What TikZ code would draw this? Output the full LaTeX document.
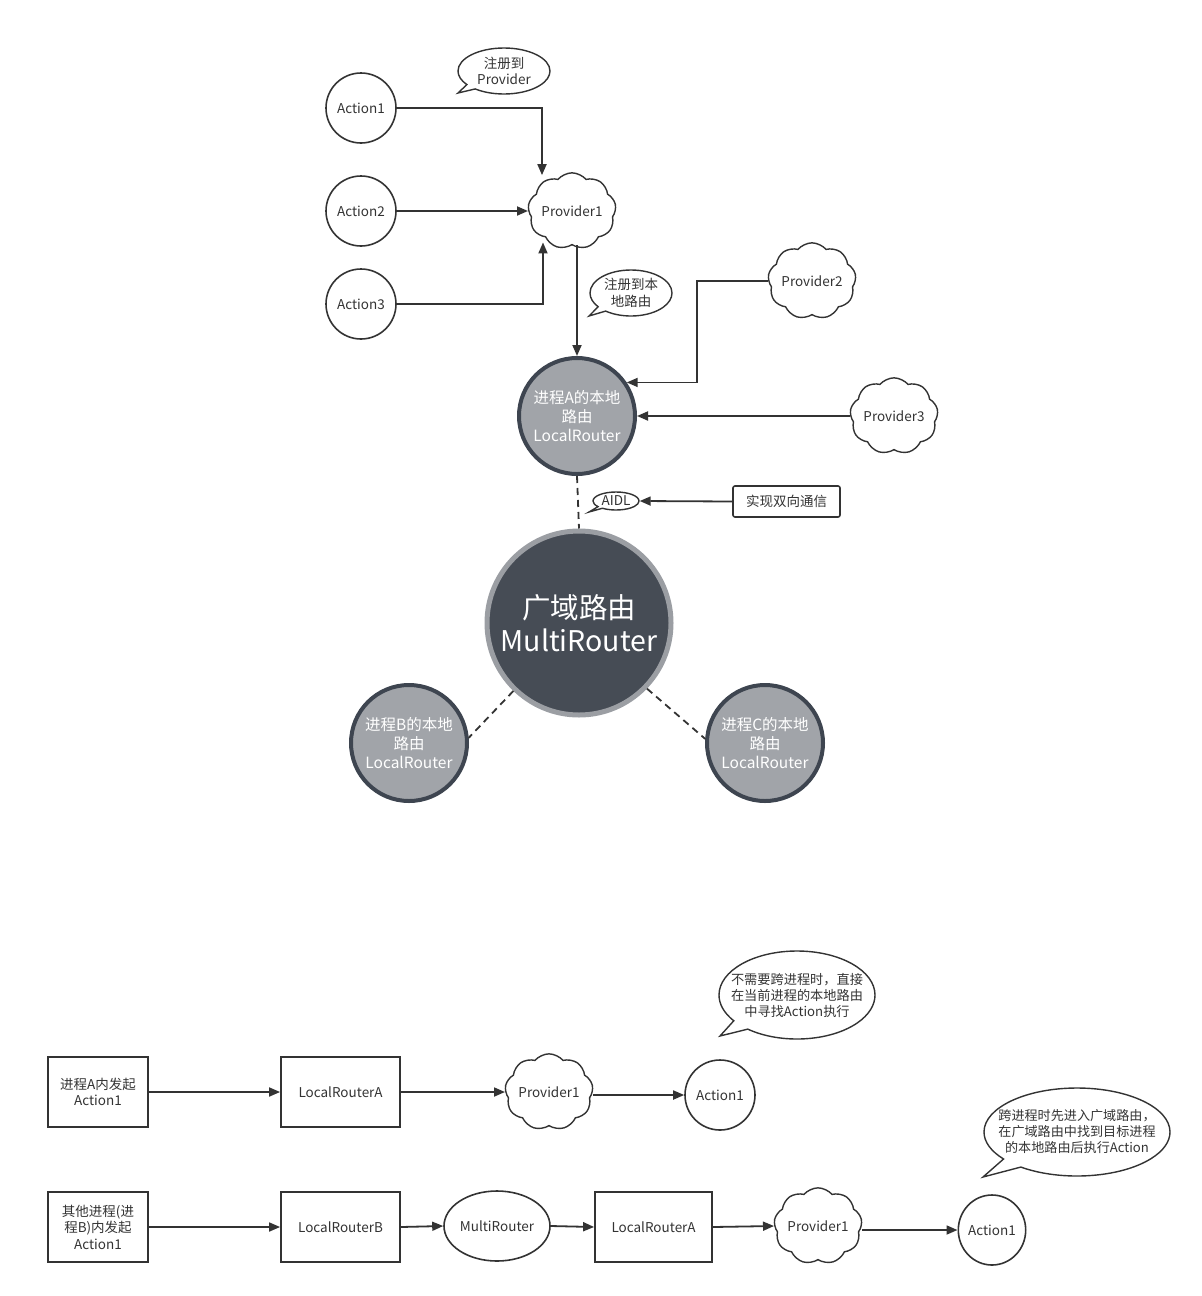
\documentclass[tikz,border=0pt]{standalone}
\usepackage{fontspec}
\setmainfont{Noto Sans CJK SC}
\usetikzlibrary{shapes.symbols,shapes.callouts,shapes.geometric,arrows.meta,calc}
\definecolor{lc}{HTML}{333333}
\definecolor{lrfill}{HTML}{A1A4A9}
\definecolor{lrline}{HTML}{3E4550}
\definecolor{mrfill}{HTML}{464C55}
\definecolor{mrline}{HTML}{9B9EA3}
\begin{document}
\begin{tikzpicture}[x=1pt,y=-1pt,
  every node/.style={text=lc, font=\fontsize{13.5}{16.5}\selectfont},
  ln/.style={draw=lc, line width=1.8pt},
  arr/.style={ln, -{Triangle[length=11pt,width=9pt]}},
  act/.style={circle, draw=lc, line width=1.6pt, minimum size=70pt, inner sep=0pt},
  actel/.style={ellipse, draw=lc, line width=1.6pt, inner sep=0pt},
  cl/.style={cloud, cloud puffs=9, cloud puff arc=100, draw=lc, line width=1.4pt, minimum width=88pt, minimum height=66pt, inner sep=-6pt},
  box/.style={rectangle, draw=lc, line width=1.8pt, align=center, inner sep=0pt},
  co/.style={ellipse callout, draw=lc, line width=1.4pt, align=center, inner sep=-30pt},
  lr/.style={circle, fill=lrfill, draw=lrline, line width=4pt, minimum size=116pt, inner sep=-10pt, align=center, text=white, font=\fontsize{15.5}{19}\selectfont},
  mr/.style={circle, fill=mrfill, draw=mrline, line width=5pt, minimum size=184pt, inner sep=-20pt, align=center, text=white, font=\fontsize{28.5}{33}\selectfont},
  dsh/.style={draw=lc, line width=1.8pt, dash pattern=on 7pt off 5pt}
]
\useasboundingbox (0,0) rectangle (1202,1296);

% ---------- top part ----------
\node[act] (a1) at (361,108) {Action1};
\node[act] (a2) at (361,211) {Action2};
\node[act] (a3) at (361,304) {Action3};
\node[cl] (p1) at (572,211) {Provider1};
\node[co, minimum width=92pt, minimum height=46pt, callout absolute pointer={(458,93)}] (c1) at (504,71) {注册到\\Provider};
\node[co, minimum width=82pt, minimum height=46pt, callout absolute pointer={(589,316)}] (c2) at (631,293) {注册到本\\地路由};
\node[cl] (p2) at (812,281) {Provider2};
\node[cl] (p3) at (894,416) {Provider3};
\node[lr] (lra) at (577,416) {进程A的本地\\路由\\LocalRouter};
\node[mr] (mr) at (579,623) {广域路由\\MultiRouter};
\node[lr] (lrb) at (409,743) {进程B的本地\\路由\\LocalRouter};
\node[lr] (lrc) at (765,743) {进程C的本地\\路由\\LocalRouter};
\node[co, minimum width=46pt, minimum height=18pt, callout absolute pointer={(589,512)}] (aidl) at (616,501) {AIDL};
\node[box, rounded corners=2pt, minimum width=107pt, minimum height=31pt, line width=1.6pt] (bd) at (786.5,501.5) {实现双向通信};

\coordinate (p1in) at ([xshift=-30pt,yshift=-3pt]p1.north);
\coordinate (p1in3) at ([xshift=-29pt,yshift=3pt]p1.south);
\draw[arr] (a1.east) -| (p1in);
\draw[arr] (a2.east) -- (p1.west);
\draw[arr] (a3.east) -| (p1in3);
\draw[arr] (p1.south -| lra.north) -- (lra.north);
\draw[arr] (p2.west) -- ++(-71,0) |- (lra.34);
\draw[arr] (p3.west) -- (lra.east);
\draw[arr] (bd.west) -- (aidl.east);
\draw[dsh] (lra.south) -- (mr.north);
\draw[dsh] (mr.226) -- (lrb.5);
\draw[dsh] (mr.316) -- (lrc.176);

% ---------- bottom part ----------
\node[box, minimum width=100pt, minimum height=70pt] (s1) at (98,1092) {进程A内发起\\Action1};
\node[box, minimum width=119pt, minimum height=70pt] (la1) at (340.5,1092) {LocalRouterA};
\node[cl, minimum width=88pt, minimum height=68pt] (bp1) at (549,1092) {Provider1};
\node[actel, minimum width=70pt, minimum height=70pt] (ba1) at (720,1095) {Action1};
\node[co, minimum width=156pt, minimum height=88pt, font=\fontsize{13.2}{16}\selectfont, callout absolute pointer={(720,1036)}] (c3) at (797,995) {不需要跨进程时，直接\\在当前进程的本地路由\\中寻找Action执行};

\node[box, minimum width=100pt, minimum height=70pt] (s2) at (98,1227) {其他进程(进\\程B)内发起\\Action1};
\node[box, minimum width=119pt, minimum height=70pt] (lb2) at (340.5,1227) {LocalRouterB};
\node[actel, minimum width=106pt, minimum height=70pt] (m2) at (497,1226) {MultiRouter};
\node[box, minimum width=117pt, minimum height=70pt] (la2) at (653.5,1227) {LocalRouterA};
\node[cl, minimum width=88pt, minimum height=70pt] (bp2) at (818,1226) {Provider1};
\node[actel, minimum width=62pt, minimum height=70pt] (ba2) at (992,1230) {Action1};
\node[co, minimum width=186pt, minimum height=88pt, font=\fontsize{13.1}{16}\selectfont, callout absolute pointer={(983,1177)}] (c4) at (1077,1132) {跨进程时先进入广域路由，\\在广域路由中找到目标进程\\的本地路由后执行Action};

\draw[arr] (s1.east) -- (la1.west);
\draw[arr] (la1.east) -- (bp1.west);
\draw[arr] (bp1.east |- ba1.west) -- (ba1.west);
\draw[arr] (s2.east) -- (lb2.west);
\draw[arr] (lb2.east) -- (m2.west);
\draw[arr] (m2.east) -- (la2.west);
\draw[arr] (la2.east) -- (bp2.west);
\draw[arr] (bp2.east |- ba2.west) -- (ba2.west);
\end{tikzpicture}
\end{document}
